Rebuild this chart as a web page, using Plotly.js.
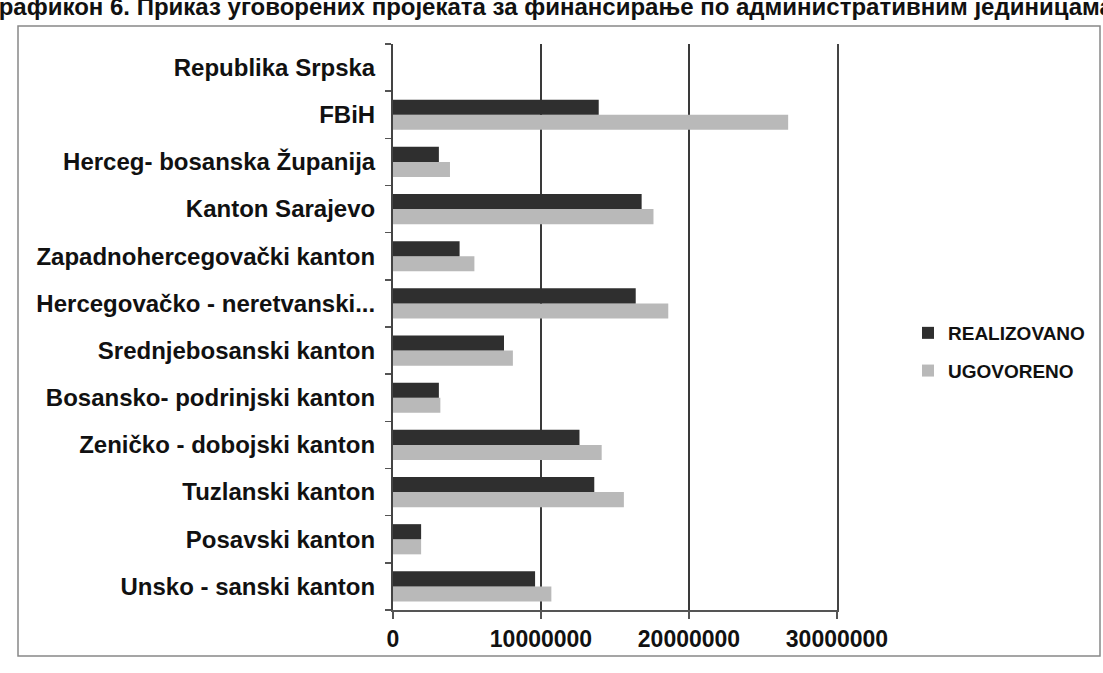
<!DOCTYPE html>
<html>
<head>
<meta charset="utf-8">
<script src="https://cdn.plot.ly/plotly-3.0.1.min.js"></script>
<style>html,body{margin:0;padding:0;background:#fff;}#chart{width:1103px;height:673px;}</style>
</head>
<body>
<div id="chart"></div>
<script>
const categories = [
  "Unsko - sanski kanton",
  "Posavski kanton",
  "Tuzlanski kanton",
  "Zeničko - dobojski kanton",
  "Bosansko- podrinjski kanton",
  "Srednjebosanski kanton",
  "Hercegovačko - neretvanski...",
  "Zapadnohercegovački kanton",
  "Kanton Sarajevo",
  "Herceg- bosanska Županija",
  "FBiH",
  "Republika Srpska"
];
const realizovano = [9600000, 1900000, 13600000, 12600000, 3100000, 7500000, 16400000, 4500000, 16800000, 3100000, 13900000, null];
const ugovoreno   = [10700000, 1900000, 15600000, 14100000, 3200000, 8100000, 18600000, 5500000, 17600000, 3850000, 26700000, null];
const xTicks = [0, 10000000, 20000000, 30000000];
const xTickLabels = ["0", "10000000", "20000000", "30000000"];
const seriesNames = ["REALIZOVANO", "UGOVORENO"];
const titleText = "Графикон 6. Приказ уговорених пројеката за финансирање по административним јединицама";

const W = 1103, H = 673;
const M = {l: 393, r: 266, t: 44, b: 63, autoexpand: false};
const pw = W - M.l - M.r, ph = H - M.t - M.b;
const px = x => (x - M.l) / pw;
const py = y => (H - M.b - y) / ph;

const font = "Liberation Sans, Arial, sans-serif";

const traces = [
  {
    type: "bar", orientation: "h", name: seriesNames[1],
    y: categories, x: ugovoreno,
    marker: {color: "#b9b9b9"},
    legendgroup: "b", legendrank: 2
  },
  {
    type: "bar", orientation: "h", name: seriesNames[0],
    y: categories, x: realizovano,
    marker: {color: "#2f2f2f"},
    legendgroup: "a", legendrank: 1
  }
];

const layout = {
  width: W, height: H,
  margin: M,
  paper_bgcolor: "#ffffff",
  plot_bgcolor: "#ffffff",
  barmode: "group",
  bargap: 0.36,
  bargroupgap: 0,
  showlegend: true,
  legend: {
    x: px(908), y: py(314), xanchor: "left", yanchor: "top",
    traceorder: "grouped",
    tracegroupgap: 10,
    font: {family: font, size: 19, color: "#111", weight: "bold"},
    bgcolor: "rgba(0,0,0,0)",
    itemwidth: 30
  },
  xaxis: {
    range: [0, 30000000],
    tickvals: xTicks, ticktext: xTickLabels,
    showgrid: true, gridcolor: "#3a3a3a", gridwidth: 2,
    zeroline: false,
    showline: true, linecolor: "#555", linewidth: 2,
    ticks: "outside", ticklen: 7, tickcolor: "#555", tickwidth: 1.5,
    ticklabelstandoff: 0,
    tickfont: {family: font, size: 23, color: "#111", weight: "bold"},
    fixedrange: true
  },
  yaxis: {
    type: "category",
    categoryorder: "array", categoryarray: categories,
    showline: true, linecolor: "#444", linewidth: 2,
    mirror: true,
    ticks: "outside", ticklen: 6, tickcolor: "#555", tickwidth: 1.5,
    tickson: "boundaries",
    showgrid: false,
    ticklabelstandoff: 11,
    tickfont: {family: font, size: 24, color: "#111", weight: "bold"},
    fixedrange: true
  },
  shapes: [
    {type: "rect", xref: "paper", yref: "paper",
     x0: px(18), x1: px(1100), y0: py(656), y1: py(26),
     line: {color: "#888", width: 1.5}, fillcolor: "rgba(0,0,0,0)", layer: "below"}
  ],
  annotations: [
    {xref: "paper", yref: "paper", x: px(-16), y: py(-9),
     xanchor: "left", yanchor: "top", showarrow: false,
     text: titleText,
     font: {family: font, size: 24, color: "#111", weight: "bold"}}
  ]
};

Plotly.newPlot("chart", traces, layout, {displayModeBar: false, staticPlot: true});
</script>
</body>
</html>
